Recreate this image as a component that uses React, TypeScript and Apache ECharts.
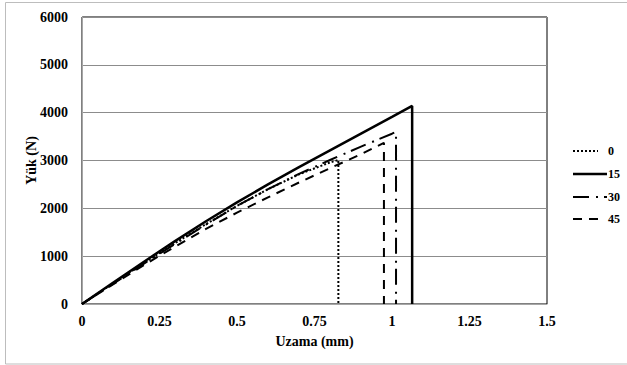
import React, { useEffect, useRef } from "react";
import * as echarts from "echarts";

const seriesNames = ["0", "15", "30", "45"];

const x0 = [0, 0.1, 0.2, 0.3, 0.4, 0.5, 0.6, 0.7, 0.8, 0.827, 0.827];
const y0 = [0, 430, 860, 1270, 1670, 2050, 2400, 2710, 2960, 3010, 0];

const x15 = [0, 0.1, 0.2, 0.3, 0.4, 0.5, 0.6, 0.7, 0.8, 0.9, 1.0, 1.065, 1.065];
const y15 = [0, 445, 885, 1315, 1730, 2125, 2500, 2860, 3210, 3560, 3910, 4140, 0];

const x30 = [0, 0.1, 0.2, 0.3, 0.4, 0.5, 0.6, 0.7, 0.8, 0.9, 1.0, 1.013, 1.013];
const y30 = [0, 420, 845, 1255, 1660, 2050, 2400, 2720, 3010, 3290, 3560, 3600, 0];

const x45 = [0, 0.1, 0.2, 0.3, 0.4, 0.5, 0.6, 0.7, 0.8, 0.9, 0.974, 0.974];
const y45 = [0, 410, 815, 1200, 1570, 1910, 2230, 2540, 2840, 3130, 3370, 0];

const xTicks = [0, 0.25, 0.5, 0.75, 1, 1.25, 1.5];
const yTicks = [0, 1000, 2000, 3000, 4000, 5000, 6000];

const zip = (xs: number[], ys: number[]) => xs.map((x, i) => [x, ys[i]]);

const FONT = "'Times New Roman', 'Liberation Serif', serif";

const dashes: any[] = [[2, 2], "solid", [16, 7, 2, 6], [9, 7]];
const widths = [2, 2.5, 2, 2];
const legendLen = [25, 34, 34, 25];

export default function App() {
  const ref = useRef<HTMLDivElement>(null);
  useEffect(() => {
    if (!ref.current) return;
    const chart = echarts.init(ref.current, null, { renderer: "svg" });
    const lineSeries = (i: number, xs: number[], ys: number[]) => ({
      name: seriesNames[i],
      type: "line",
      data: zip(xs, ys),
      symbol: "none",
      showSymbol: false,
      lineStyle: { color: "#000", width: widths[i], type: dashes[i] },
      itemStyle: { color: "#000" },
      z: 3,
    });
    const legendY = [151, 174, 197, 219];
    const legendGraphics: any[] = [];
    seriesNames.forEach((n, i) => {
      legendGraphics.push({
        type: "line",
        shape: { x1: 573, y1: legendY[i], x2: 573 + legendLen[i], y2: legendY[i] },
        style: { stroke: "#000", lineWidth: widths[i], lineDash: dashes[i] === "solid" ? null : dashes[i] },
      });
      legendGraphics.push({
        type: "text",
        x: 608,
        y: legendY[i],
        style: {
          text: n,
          fontFamily: FONT,
          fontWeight: "bold",
          fontSize: 12,
          fill: "#000",
          verticalAlign: "middle",
          align: "left",
        },
      });
    });
    chart.setOption({
      animation: false,
      backgroundColor: "#fff",
      graphic: [
        {
          type: "rect",
          shape: { x: 5.5, y: 2.5, width: 700, height: 361.5 },
          style: { fill: "none", stroke: "#bdbdbd", lineWidth: 1 },
          z: -1,
        },
        ...legendGraphics,
      ],
      grid: {
        left: 82,
        top: 17,
        right: 80,
        bottom: 61,
        show: true,
        borderColor: "#000",
        borderWidth: 1,
        backgroundColor: "transparent",
      },
      xAxis: {
        type: "value",
        min: 0,
        max: 1.5,
        interval: 0.25,
        name: "Uzama (mm)",
        nameLocation: "middle",
        nameGap: 30,
        nameMoveOverlap: false,
        nameTextStyle: { fontFamily: FONT, fontWeight: "bold", fontSize: 14, color: "#000" },
        axisLine: { show: true, lineStyle: { color: "#a6a6a6", width: 1 } },
        axisTick: { show: false },
        splitLine: { show: false },
        axisLabel: {
          fontFamily: FONT,
          fontWeight: "bold",
          fontSize: 14,
          color: "#000",
          margin: 10,
          formatter: (v: number) => (xTicks.includes(v) ? String(v) : ""),
        },
      },
      yAxis: {
        type: "value",
        min: 0,
        max: 6000,
        interval: 1000,
        name: "Yük (N)",
        nameLocation: "middle",
        nameGap: 44,
        nameMoveOverlap: false,
        nameTextStyle: { fontFamily: FONT, fontWeight: "bold", fontSize: 14, color: "#000" },
        axisLine: { show: true, lineStyle: { color: "#a6a6a6", width: 1 } },
        axisTick: { show: false },
        splitLine: { show: true, lineStyle: { color: "#8c8c8c", width: 1 } },
        axisLabel: {
          fontFamily: FONT,
          fontWeight: "bold",
          fontSize: 14,
          color: "#000",
          margin: 14,
          formatter: (v: number) => (yTicks.includes(v) ? String(v) : ""),
        },
      },
      series: [
        lineSeries(0, x0, y0),
        lineSeries(1, x15, y15),
        lineSeries(2, x30, y30),
        lineSeries(3, x45, y45),
      ],
    });
    return () => chart.dispose();
  }, []);
  return (
    <div
      ref={ref}
      style={{ position: "absolute", left: 0, top: 0, width: 627, height: 365 }}
    />
  );
}
